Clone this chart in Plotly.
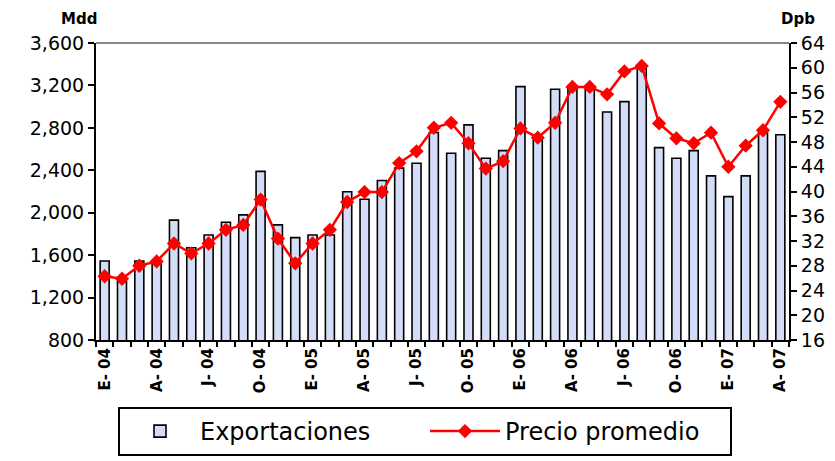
import plotly.graph_objects as go

months = [f"{m}-{y}" for y in ["04", "05", "06", "07"]
          for m in ["Ene", "Feb", "Mar", "Abr", "May", "Jun", "Jul", "Ago", "Sep", "Oct", "Nov", "Dic"]][:40]

exportaciones = [1545, 1350, 1545, 1535, 1930, 1670, 1790, 1910, 1980, 2390,
                 1885, 1765, 1790, 1790, 2198, 2127, 2303, 2420, 2466, 2756,
                 2561, 2828, 2513, 2585, 3189, 2686, 3164, 3175, 3174, 2950,
                 3047, 3370, 2614, 2513, 2585, 2347, 2152, 2347, 2750, 2735]

precio = [26.3, 25.9, 28.0, 28.7, 31.6, 30.0, 31.6, 33.8, 34.6, 38.7,
          32.4, 28.4, 31.6, 33.8, 38.3, 39.9, 39.9, 44.6, 46.5, 50.3,
          51.1, 47.8, 43.7, 44.9, 50.2, 48.7, 51.1, 56.9, 56.9, 55.7,
          59.4, 60.3, 51.0, 48.6, 47.8, 49.5, 44.0, 47.4, 49.9, 54.5]

tick_labels = {0: "E- 04", 3: "A- 04", 6: "J- 04", 9: "O- 04",
               12: "E- 05", 15: "A- 05", 18: "J- 05", 21: "O- 05",
               24: "E- 06", 27: "A- 06", 30: "J- 06", 33: "O- 06",
               36: "E- 07", 39: "A- 07"}
ticktext = [tick_labels.get(i, "") for i in range(len(months))]

left_ticks = list(range(800, 3601, 400))
right_ticks = list(range(16, 65, 4))

FONT = "DejaVu Sans"

fig = go.Figure()
fig.add_trace(go.Bar(
    x=months, y=exportaciones, name="Exportaciones",
    marker=dict(color="#d3ddf8", line=dict(color="black", width=1.6)),
    yaxis="y",
))
fig.add_trace(go.Scatter(
    x=months, y=precio, name="Precio promedio", mode="lines+markers",
    line=dict(color="#ff0000", width=2.5),
    marker=dict(symbol="diamond", size=11, color="#ff0000"),
    yaxis="y2",
))

fig.update_layout(
    width=835, height=461,
    margin=dict(l=88, r=54, t=35, b=129, autoexpand=False),
    paper_bgcolor="white", plot_bgcolor="white",
    bargap=0.48,
    font=dict(family=FONT, color="black"),
    showlegend=True,
    legend=dict(
        orientation="h", xref="container", yref="container",
        x=(118 - 8) / 835, xanchor="left", y=1 - 399 / 461, yanchor="top",
        bordercolor="black", borderwidth=2, bgcolor="white",
        font=dict(family=FONT, size=24, color="black"),
        itemwidth=70, entrywidth=220, entrywidthmode="pixels",
    ),
    xaxis=dict(
        type="category", tickmode="array", tickvals=months, ticktext=ticktext,
        tickson="boundaries", ticks="outside", ticklen=5, tickwidth=2, tickcolor="black",
        tickangle=-90, tickfont=dict(family=FONT, size=15, color="black", weight="bold"),
        showline=True, linecolor="black", linewidth=2, showgrid=False,
        range=[-0.5, 39.5],
    ),
    yaxis=dict(
        range=[800, 3600], tickvals=left_ticks, tickformat=",",
        ticks="outside", ticklen=6, tickwidth=2, tickcolor="black",
        tickfont=dict(family=FONT, size=19, color="black"),
        showline=True, linecolor="black", linewidth=2, showgrid=False, zeroline=False,
    ),
    yaxis2=dict(
        range=[16, 64], tickvals=right_ticks, overlaying="y", side="right",
        ticks="outside", ticklen=6, tickwidth=2, tickcolor="black",
        tickfont=dict(family=FONT, size=19, color="black"),
        showline=True, linecolor="black", linewidth=2, showgrid=False, zeroline=False,
    ),
    shapes=[dict(type="line", xref="paper", yref="paper", x0=0, x1=1, y0=1, y1=1,
                 line=dict(color="#888888", width=2), layer="below")],
    annotations=[
        dict(text="<b>Mdd</b>", xref="paper", yref="paper", x=0.0, y=1.0, yshift=24, xshift=-17,
             xanchor="center", yanchor="middle", showarrow=False,
             font=dict(family=FONT, size=15, color="black")),
        dict(text="<b>Dpb</b>", xref="paper", yref="paper", x=1.0, y=1.0, yshift=24, xshift=9,
             xanchor="center", yanchor="middle", showarrow=False,
             font=dict(family=FONT, size=15, color="black")),
    ],
)

fig.write_html("out.html")
